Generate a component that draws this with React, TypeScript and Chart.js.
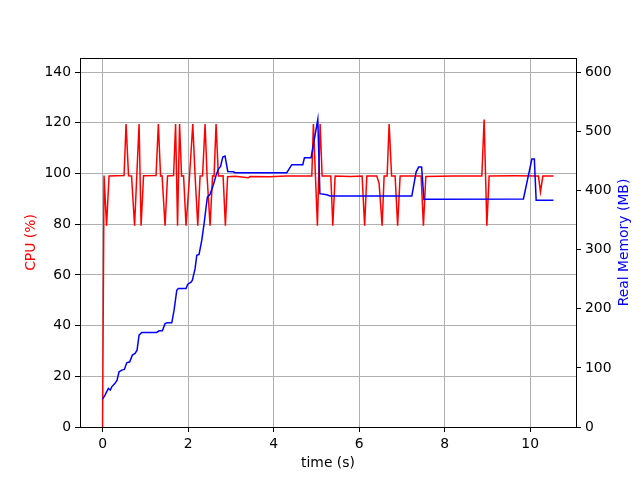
import React, { useEffect, useRef } from "react";
import { Chart, registerables } from "chart.js";

Chart.register(...registerables);

// CPU samples (vertices of the red trace)
const cpuTime = [
  0.000, 0.035, 0.094, 0.152, 0.503, 0.550, 0.608, 0.678, 0.749, 0.854,
  0.901, 0.959, 1.251, 1.305, 1.357, 1.392, 1.462, 1.520, 1.661, 1.708,
  1.754, 1.801, 1.848, 1.895, 1.953, 2.035, 2.110, 2.164, 2.227, 2.281,
  2.339, 2.398, 2.444, 2.515, 2.573, 2.608, 2.655, 2.709, 2.819, 2.873,
  2.924, 3.100, 3.404, 3.450, 3.900, 4.300, 4.894, 4.931, 5.025, 5.088,
  5.135, 5.338, 5.385, 5.439, 5.800, 6.070, 6.129, 6.180, 6.414, 6.468,
  6.538, 6.585, 6.655, 6.702, 6.760, 6.842, 6.901, 6.959, 7.450, 7.504,
  7.560, 8.200, 8.870, 8.924, 8.987, 9.041, 9.600, 10.194, 10.241, 10.297,
  10.545,
];
const cpuValues = [
  0, 99.2, 79.4, 99.0, 99.2, 119.5, 99.1, 99.0, 79.4, 119.5,
  79.4, 99.1, 99.2, 119.5, 99.0, 99.1, 79.4, 99.0, 99.2, 119.5,
  79.4, 119.5, 99.0, 99.1, 79.4, 99.0, 119.5, 99.2, 79.4, 99.0,
  99.1, 119.5, 99.0, 79.4, 99.1, 99.0, 119.5, 99.0, 99.1, 79.4,
  98.7, 98.9, 98.3, 98.8, 98.7, 99.0, 99.0, 119.5, 79.4, 119.5,
  99.0, 99.0, 79.4, 99.0, 98.8, 99.0, 79.4, 99.0, 99.0, 96.0,
  79.4, 99.0, 99.0, 119.5, 99.0, 99.0, 79.4, 99.0, 99.0, 79.4,
  98.8, 99.0, 99.0, 121.3, 79.4, 99.0, 99.1, 99.0, 92.8, 99.0,
  99.0,
];

// Memory samples (vertices of the blue trace)
const memTime = [
  0.000, 0.058, 0.136, 0.182, 0.215, 0.292, 0.339, 0.386, 0.449, 0.510,
  0.566, 0.636, 0.697, 0.760, 0.807, 0.854, 0.917, 1.268, 1.322, 1.399,
  1.462, 1.509, 1.619, 1.673, 1.736, 1.773, 1.953, 1.993, 2.070, 2.101,
  2.164, 2.204, 2.257, 2.320, 2.374, 2.421, 2.452, 2.515, 2.592, 2.663,
  2.714, 2.760, 2.812, 2.865, 2.929, 3.060, 3.099, 4.309, 4.426, 4.683,
  4.721, 4.877, 5.034, 5.083, 5.244, 5.322, 7.233, 7.333, 7.392, 7.462,
  7.516, 7.567, 9.843, 10.040, 10.098, 10.140, 10.545,
];
const memValues = [
  47.3, 54, 65.4, 62.5, 68, 74, 79.4, 93.5, 96.3, 97.5,
  108.7, 110.4, 121.7, 124.5, 130, 155.5, 160, 160, 162.8, 163,
  175, 176.3, 176.3, 197.7, 231.5, 234.4, 234.4, 241.7, 245, 248.4,
  268, 290.7, 292, 316, 344, 372, 389, 394, 410, 428,
  437, 441, 456.8, 458.5, 432.6, 432, 430.5, 430.5, 444, 444,
  455.8, 455.8, 520.5, 395, 393, 391, 391, 431.5, 440, 440,
  385, 385.3, 386, 453.5, 453.5, 384, 384,
];

const xTickStep = 2;
const cpuTickStep = 20;
const memTickStep = 100;

const FONT = "'DejaVu Sans', sans-serif";
const FS = 13.9;

export default function App() {
  const ref = useRef<HTMLCanvasElement | null>(null);

  useEffect(() => {
    if (!ref.current) return;
    const tMin = Math.min(...cpuTime, ...memTime);
    const tMax = Math.max(...cpuTime, ...memTime);
    const xMargin = (tMax - tMin) * 0.05;
    const cpuMax = Math.max(...cpuValues) * 1.2;
    const memMax = Math.max(...memValues) * 1.2;

    const framePlugin = {
      id: "frame",
      afterDraw(chart: any) {
        const { ctx, chartArea } = chart;
        ctx.save();
        ctx.strokeStyle = "#000";
        ctx.lineWidth = 1;
        const l = Math.round(chartArea.left);
        const t = Math.round(chartArea.top);
        const r = Math.round(chartArea.right);
        const b = Math.round(chartArea.bottom);
        ctx.strokeRect(l + 0.5, t + 0.5, r - l, b - t);
        ctx.translate(624, (chartArea.top + chartArea.bottom) / 2);
        ctx.rotate(-Math.PI / 2);
        ctx.fillStyle = "#0000ff";
        ctx.font = `${FS}px ${FONT}`;
        ctx.textAlign = "center";
        ctx.textBaseline = "middle";
        ctx.fillText("Real Memory (MB)", 0, 0);
        ctx.restore();
      },
    };

    const chart = new Chart(ref.current, {
      type: "line",
      data: {
        datasets: [
          {
            label: "Real Memory (MB)",
            data: memTime.map((t, i) => ({ x: t, y: memValues[i] })),
            borderColor: "#0000ff",
            borderWidth: 1.5,
            pointRadius: 0,
            tension: 0,
            yAxisID: "yMem",
            order: 0,
          },
          {
            label: "CPU (%)",
            data: cpuTime.map((t, i) => ({ x: t, y: cpuValues[i] })),
            borderColor: "#ff0000",
            borderWidth: 1.5,
            pointRadius: 0,
            tension: 0,
            yAxisID: "yCpu",
            order: 1,
          },
        ],
      },
      options: {
        animation: false,
        responsive: false,
        layout: { padding: { top: 58, left: 0, right: 0, bottom: 0 } },
        plugins: { legend: { display: false }, tooltip: { enabled: false } },
        scales: {
          x: {
            type: "linear",
            position: "bottom",
            min: tMin - xMargin,
            max: tMax + xMargin,
            afterFit: (s: any) => { s.height = 53; },
            border: { display: false },
            grid: { color: "#b0b0b0", lineWidth: 1, tickColor: "#000", tickLength: 5 },
            ticks: {
              stepSize: xTickStep,
              includeBounds: false,
              maxRotation: 0,
              padding: 4,
              color: "#000",
              font: { family: FONT, size: FS },
            },
            title: {
              display: true,
              text: "time (s)",
              color: "#000",
              font: { family: FONT, size: FS },
              padding: { top: 0, bottom: 8.6 },
            },
          },
          yCpu: {
            type: "linear",
            position: "left",
            min: 0,
            max: cpuMax,
            afterFit: (s: any) => { s.width = 80; },
            border: { display: false },
            grid: { color: "#b0b0b0", lineWidth: 1, tickColor: "#000", tickLength: 5 },
            ticks: {
              stepSize: cpuTickStep,
              includeBounds: false,
              padding: 4,
              color: "#000",
              font: { family: FONT, size: FS },
            },
            title: {
              display: true,
              text: "CPU (%)",
              color: "#ff0000",
              font: { family: FONT, size: FS },
              padding: { top: 22.6, bottom: 0 },
            },
          },
          yMem: {
            type: "linear",
            position: "right",
            min: 0,
            max: memMax,
            afterFit: (s: any) => { s.width = 64; },
            border: { display: false },
            grid: { drawOnChartArea: false, color: "#000", tickColor: "#000", tickLength: 5 },
            ticks: {
              stepSize: memTickStep,
              includeBounds: false,
              padding: 4,
              color: "#000",
              font: { family: FONT, size: FS },
            },
          },
        },
      },
      plugins: [framePlugin],
    } as any);
    return () => chart.destroy();
  }, []);

  return (
    <div style={{ position: "absolute", left: 0, top: 0, width: 640, height: 480, background: "#fff" }}>
      <canvas ref={ref} width={640} height={480} style={{ display: "block" }} />
    </div>
  );
}
